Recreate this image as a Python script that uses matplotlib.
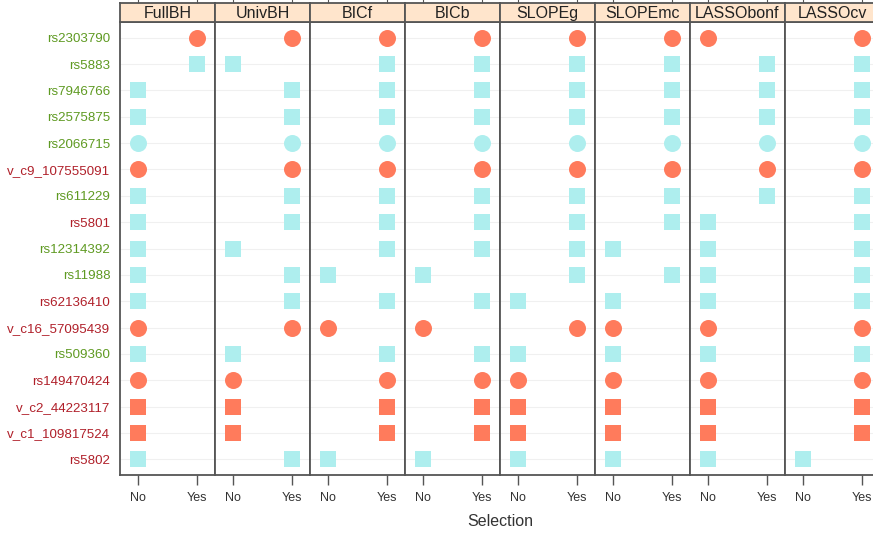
import matplotlib
matplotlib.use('Agg')
import matplotlib.pyplot as plt

plt.rcParams['font.family'] = ['Liberation Sans', 'DejaVu Sans']

# rows listed top to bottom
snps = ['rs2303790', 'rs5883', 'rs7946766', 'rs2575875', 'rs2066715',
        'v_c9_107555091', 'rs611229', 'rs5801', 'rs12314392', 'rs11988',
        'rs62136410', 'v_c16_57095439', 'rs509360', 'rs149470424',
        'v_c2_44223117', 'v_c1_109817524', 'rs5802']
label_group = ['g', 'g', 'g', 'g', 'g', 'r', 'g', 'r', 'g', 'g',
               'r', 'r', 'g', 'r', 'r', 'r', 'r']
marker_shape = ['o', 's', 's', 's', 'o', 'o', 's', 's', 's', 's',
                's', 'o', 's', 'o', 's', 's', 's']
marker_group = ['a', 'b', 'b', 'b', 'b', 'a', 'b', 'b', 'b', 'b',
                'b', 'a', 'b', 'a', 'a', 'a', 'b']

methods = ['FullBH', 'UnivBH', 'BICf', 'BICb', 'SLOPEg', 'SLOPEmc',
           'LASSObonf', 'LASSOcv']
levels = ['No', 'Yes']

# selection per method, same row order as snps
full_bh    = ['Yes', 'Yes', 'No', 'No', 'No', 'No', 'No', 'No', 'No', 'No',
              'No', 'No', 'No', 'No', 'No', 'No', 'No']
univ_bh    = ['Yes', 'No', 'Yes', 'Yes', 'Yes', 'Yes', 'Yes', 'Yes', 'No', 'Yes',
              'Yes', 'Yes', 'No', 'No', 'No', 'No', 'Yes']
bic_f      = ['Yes', 'Yes', 'Yes', 'Yes', 'Yes', 'Yes', 'Yes', 'Yes', 'Yes', 'No',
              'Yes', 'No', 'Yes', 'Yes', 'Yes', 'Yes', 'No']
bic_b      = ['Yes', 'Yes', 'Yes', 'Yes', 'Yes', 'Yes', 'Yes', 'Yes', 'Yes', 'No',
              'Yes', 'No', 'Yes', 'Yes', 'Yes', 'Yes', 'No']
slope_g    = ['Yes', 'Yes', 'Yes', 'Yes', 'Yes', 'Yes', 'Yes', 'Yes', 'Yes', 'Yes',
              'No', 'Yes', 'No', 'No', 'No', 'No', 'No']
slope_mc   = ['Yes', 'Yes', 'Yes', 'Yes', 'Yes', 'Yes', 'Yes', 'Yes', 'No', 'Yes',
              'No', 'No', 'No', 'No', 'No', 'No', 'No']
lasso_bonf = ['No', 'Yes', 'Yes', 'Yes', 'Yes', 'Yes', 'Yes', 'No', 'No', 'No',
              'No', 'No', 'No', 'No', 'No', 'No', 'No']
lasso_cv   = ['Yes', 'Yes', 'Yes', 'Yes', 'Yes', 'Yes', 'Yes', 'Yes', 'Yes', 'Yes',
              'Yes', 'Yes', 'Yes', 'Yes', 'Yes', 'Yes', 'No']
selections = [full_bh, univ_bh, bic_f, bic_b, slope_g, slope_mc,
              lasso_bonf, lasso_cv]

label_colors = {'g': '#5f9a22', 'r': '#b0202a'}
marker_colors = {'a': '#ff7b5c', 'b': '#aeeeee'}

W, H = 873, 533
fig = plt.figure(figsize=(W / 100, H / 100), dpi=100)

left0, pw = 120, 95
top, bottom, strip_top = 22, 475, 3
n = len(snps)
ypos = [n - i for i in range(n)]

for k, (name, sel) in enumerate(zip(methods, selections)):
    x0 = left0 + k * pw
    ax = fig.add_axes([x0 / W, 1 - bottom / H, pw / W, (bottom - top) / H])
    for y in ypos:
        ax.axhline(y, color='#f0f0f0', lw=0.8, zorder=0)
    xs = [levels.index(s) for s in sel]
    for i in range(n):
        sz = 150 if marker_shape[i] == 'o' else 133
        ax.scatter(xs[i], ypos[i], marker=marker_shape[i], s=sz,
                   color=marker_colors[marker_group[i]], linewidths=0, zorder=3)
    ax.set_xlim(-0.31, 1.31)
    ax.set_ylim(0.4, n + 0.6)
    ax.set_xticks([0, 1])
    ax.set_xticklabels(levels, fontsize=9, color='#333333')
    ax.tick_params(axis='x', length=7, width=1, color='#555555', pad=5)
    if k == 0:
        ax.set_yticks(ypos)
        ax.set_yticklabels(snps, fontsize=9.6)
        for lab, g in zip(ax.get_yticklabels(), label_group):
            lab.set_color(label_colors[g])
        ax.tick_params(axis='y', length=0, pad=7)
    else:
        ax.set_yticks([])
    for sp in ax.spines.values():
        sp.set_color('#555555')
        sp.set_linewidth(1.3)

    # strip on top of each panel
    st = fig.add_axes([x0 / W, 1 - top / H, pw / W, (top - strip_top) / H])
    st.set_facecolor('#ffe5cc')
    st.set_xlim(-0.31, 1.31)
    st.set_ylim(0, 1)
    st.set_yticks([])
    st.set_xticks([0, 1])
    st.tick_params(axis='x', top=True, bottom=False, labeltop=False,
                   labelbottom=False, length=4, color='#555555')
    st.text(0.5, 0.45, name, transform=st.transAxes, ha='center', va='center',
            fontsize=11.5, color='#222222')
    for sp in st.spines.values():
        sp.set_color('#555555')
        sp.set_linewidth(1.3)

fig.text(500 / W, 1 - 521 / H, 'Selection', ha='center', va='center',
         fontsize=11.5, color='#333333')

fig.savefig('out.png', dpi=100)
